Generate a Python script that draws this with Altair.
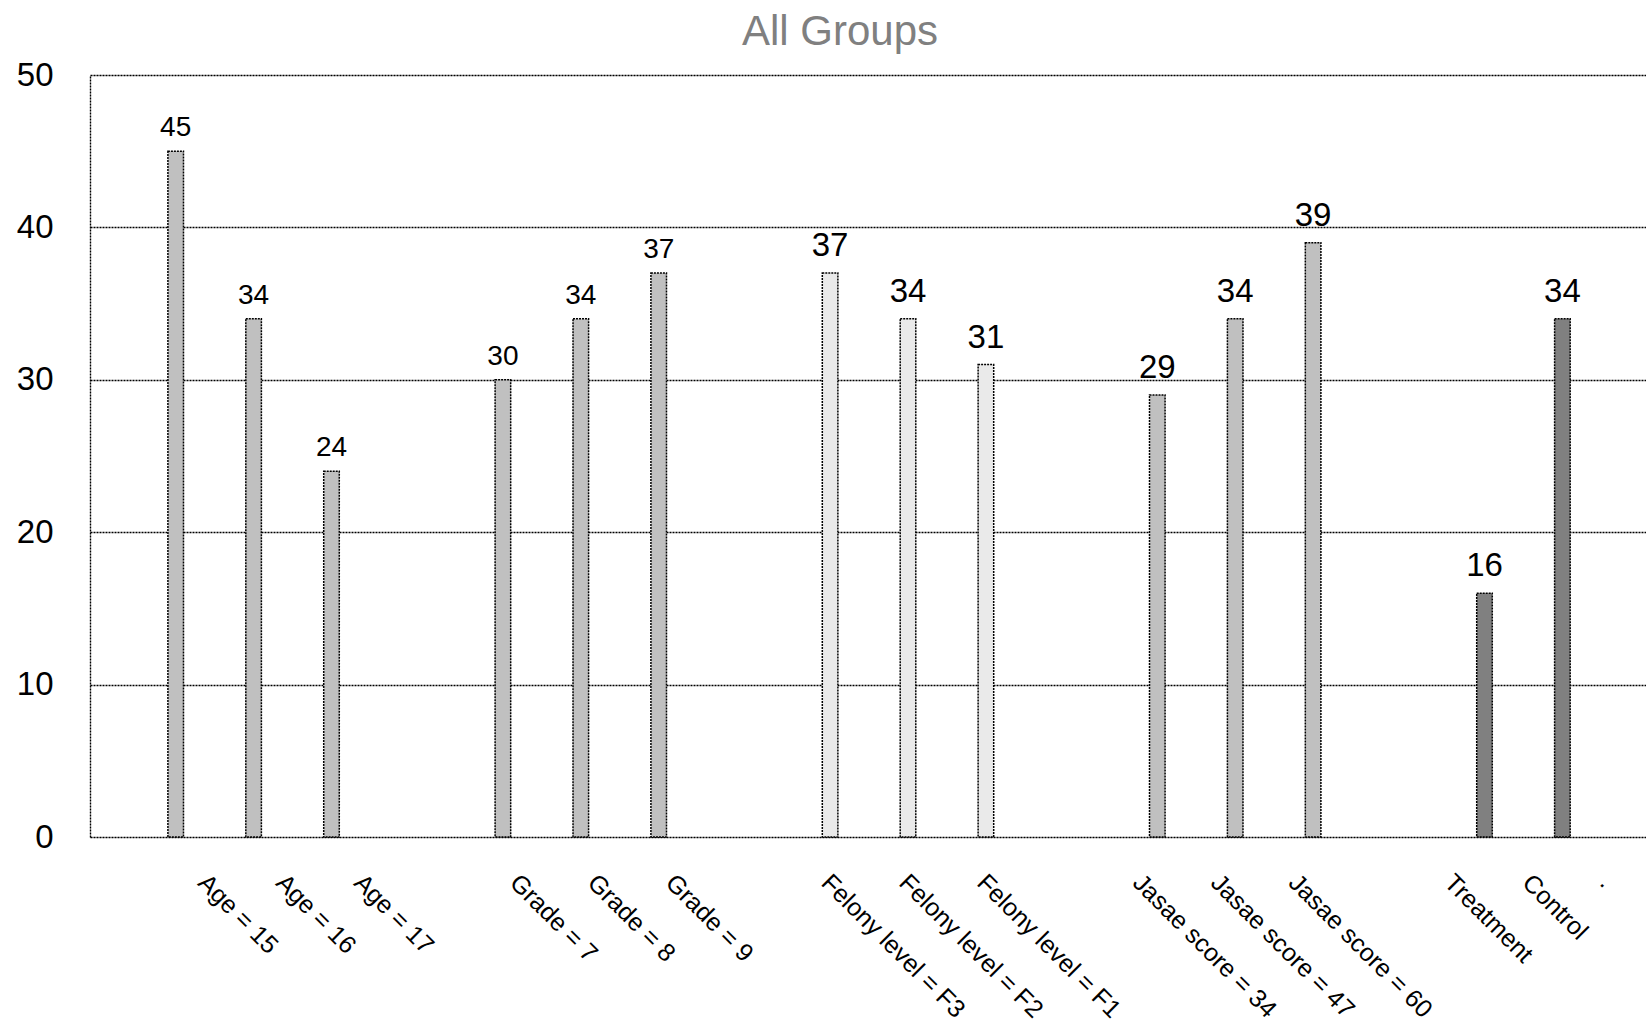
import altair as alt
import pandas as pd

FONT = "Liberation Sans"

# ---- data ----
groups = ["Age", "Grade", "Felony", "Jasae", "Group"]
bar_labels = [
    "Age = 15", "Age = 16", "Age = 17",
    "Grade = 7", "Grade = 8", "Grade = 9",
    "Felony level = F3", "Felony level = F2", "Felony level = F1",
    "Jasae score = 34", "Jasae score = 47", "Jasae score = 60",
    "Treatment", "Control", ".",
]
bar_group = ["Age"] * 3 + ["Grade"] * 3 + ["Felony"] * 3 + ["Jasae"] * 3 + ["Group"] * 3
bar_slot = ["a", "b", "c"] * 5
values = [45, 34, 24, 30, 34, 37, 37, 34, 31, 29, 34, 39, 16, 34, None]

group_colors = ["#c0c0c0", "#c0c0c0", "#eaeaea", "#c0c0c0", "#808080"]
small_label_groups = ["Age", "Grade"]

# category slots for the rotated labels (one empty slot between groups)
label_slots = []
for gi, g in enumerate(groups):
    label_slots += [lab for lab, gg in zip(bar_labels, bar_group) if gg == g]
    if gi < len(groups) - 1:
        label_slots.append(f"__gap{gi}")

df = pd.DataFrame({"label": bar_labels, "group": bar_group, "slot": bar_slot, "value": values})

W, H = 1556, 762

base = alt.Chart(df)

x_enc = alt.X("group:N", sort=groups,
              scale=alt.Scale(domain=groups, range=[0, 1636], paddingInner=0, paddingOuter=0),
              axis=None)
xo_enc = alt.XOffset("slot:N", scale=alt.Scale(domain=["a", "b", "c"], paddingInner=0.8, paddingOuter=1))
y_enc = alt.Y("value:Q", scale=alt.Scale(domain=[0, 50], nice=False),
              axis=alt.Axis(values=[0, 10, 20, 30, 40, 50], title=None, grid=True,
                            gridColor="#000000", gridDash=[2, 1], gridWidth=1.4, gridOpacity=1,
                            domain=True, domainColor="#000000", domainDash=[2, 1], domainWidth=1.4,
                            ticks=False, labelPadding=37, labelFontSize=33, labelFont=FONT,
                            labelColor="#000000"))

bars = base.transform_filter("isValid(datum.value)").mark_bar(
    stroke="#000000", strokeWidth=1.5, strokeDash=[2, 1]
).encode(
    x=x_enc, xOffset=xo_enc, y=y_enc,
    color=alt.Color("group:N", scale=alt.Scale(domain=groups, range=group_colors), legend=None),
)

vals_small = base.transform_filter("isValid(datum.value)").transform_filter(
    alt.FieldOneOfPredicate(field="group", oneOf=small_label_groups)
).mark_text(fontSize=28, font=FONT, baseline="alphabetic", dy=-15, color="#000000").encode(
    x=x_enc, xOffset=xo_enc, y=alt.Y("value:Q"), text=alt.Text("value:Q", format="d")
)

vals_large = base.transform_filter("isValid(datum.value)").transform_filter(
    ~alt.FieldOneOfPredicate(field="group", oneOf=small_label_groups)
).mark_text(fontSize=33, font=FONT, baseline="alphabetic", dy=-17, color="#000000").encode(
    x=x_enc, xOffset=xo_enc, y=alt.Y("value:Q"), text=alt.Text("value:Q", format="d")
)

xlabels = base.mark_text(angle=45, align="left", baseline="top", fontSize=25, font=FONT,
                         color="#000000").encode(
    x=alt.X("label:N", scale=alt.Scale(type="point", domain=label_slots, range=[121, 1523], padding=0),
            axis=None),
    y=alt.value(H + 33),
    text="label:N",
)

chart = alt.layer(
    alt.layer(bars, vals_small, vals_large),
    xlabels,
).resolve_scale(x="independent").properties(
    width=W, height=H,
    title=alt.TitleParams("All Groups", fontSize=42, font=FONT, color="#808080",
                          fontWeight="normal", anchor="middle", dx=-28, offset=5),
    autosize=alt.AutoSizeParams(type="none"),
    padding={"left": 90, "top": 75, "right": 0, "bottom": 194},
).configure_view(stroke=None).configure(background="white")

chart.save("out.html", embed_options={"renderer": "svg", "actions": False})
